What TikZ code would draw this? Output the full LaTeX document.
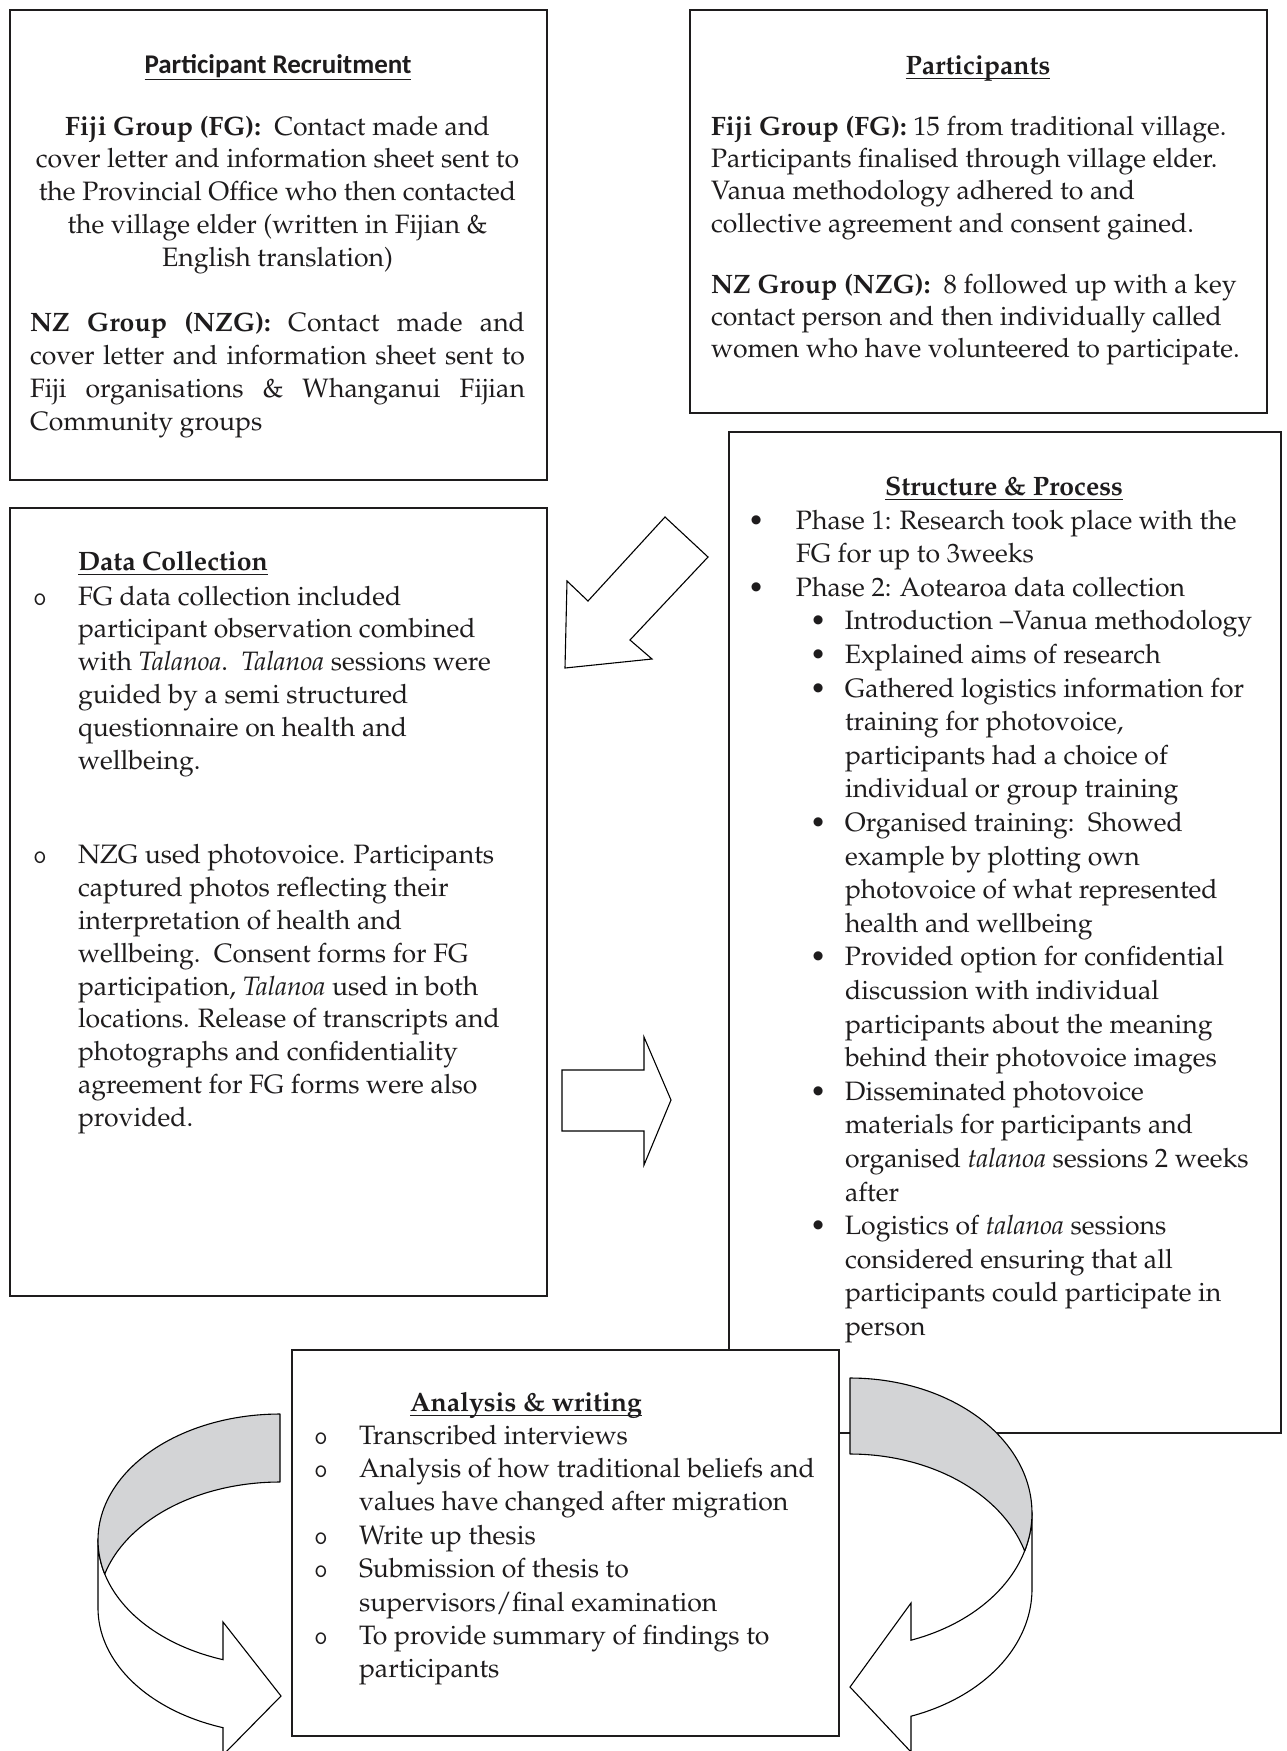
\documentclass[tikz,border=0pt]{standalone}
\usepackage[T1]{fontenc}
\usepackage{fontspec}
\newfontfamily\carlito{Carlito}
\usetikzlibrary{fit}

% Palatino body text at a fixed size; the argument is the line pitch
\newcommand\pal[1]{\fontencoding{T1}\fontfamily{ppl}\fontsize{13.3pt}{#1}\selectfont}
% hollow "o" list marker
\newcommand\obul{{\fontencoding{TU}\ttfamily o}}
% underline at a fixed distance below the baseline
\newcommand\hul[2][2.6pt]{\setbox0\hbox{#2}\rlap{\rule[-#1]{\wd0}{0.65pt}}\box0}

\definecolor{bandgray}{RGB}{211,212,214}
\definecolor{ink}{RGB}{30,28,29}

\tikzset{
  panel/.style={draw=ink, line width=0.8pt, fill=white, inner sep=0pt},
  txt/.style={inner sep=0pt, outer sep=0pt, text=ink, anchor=base west},
  blockarrow/.style={draw=black, line width=0.55pt, fill=white, line join=miter},
  bandback/.style={draw=black, line width=0.55pt, fill=bandgray, line join=round},
  bandfront/.style={draw=black, line width=0.55pt, fill=white, line join=miter},
}

\begin{document}
\begin{tikzpicture}[x=0.5pt,y=-0.5pt]
\useasboundingbox (0,0) rectangle (1286,1751);
\clip (0,0) rectangle (1286,1751);

% ---------- Participant Recruitment ----------
\node[panel, fit={(10,10) (547,480)}] (recruit) {};
\node[txt, anchor=base, font={\carlito\bfseries\fontsize{13.5pt}{16pt}\selectfont}]
  (recruitHead) at (278,73) {\hul[3.4pt]{Participant Recruitment}};
\node[txt, font={\pal{16.4pt}}] (recruitBody) at (30,135) {%
\begin{tabular}[t]{@{}c@{}}
\textbf{Fiji Group (FG):}\ \ Contact made and\\
cover letter and information sheet sent to\\
the Provincial Office who then contacted\\
the village elder (written in Fijian \&\\
English translation)\\[16.4pt]
\makebox[247.5pt][s]{\textbf{NZ Group (NZG):} Contact made and}\\
\makebox[247.5pt][s]{cover letter and information sheet sent to}\\
\makebox[247.5pt][s]{Fiji organisations \& Whanganui Fijian}\\
\makebox[247.5pt][l]{Community groups}
\end{tabular}};

% ---------- Participants ----------
\node[panel, fit={(690,10) (1267,413)}] (part) {};
\node[txt, anchor=base, font={\pal{16pt}\bfseries}] (partHead) at (978,74) {\hul{Participants}};
\node[txt, font={\pal{16.2pt}}] (partBody) at (711,135) {%
\begin{tabular}[t]{@{}l@{}}
\textbf{Fiji Group (FG):} 15 from traditional village.\\
Participants finalised through village elder.\\
Vanua methodology adhered to and\\
collective agreement and consent gained.\\[14.2pt]
\textbf{NZ Group (NZG):}\ \ 8 followed up with a key\\
contact person and then individually called\\
women who have volunteered to participate.
\end{tabular}};

% ---------- Data Collection ----------
\node[panel, fit={(10,508) (547,1296)}] (data) {};
\node[txt, font={\pal{16pt}\bfseries}] (dataHead) at (78,570) {\hul{Data Collection}};
\node[txt, font={\pal{16.4pt}}] (dataBody) at (33,605) {%
\begin{tabular}[t]{@{}l@{}}
\makebox[22.5pt][l]{\obul}FG data collection included\\
\hspace*{22.5pt}participant observation combined\\
\hspace*{22.5pt}with \textit{Talanoa}.\ \ \textit{Talanoa} sessions were\\
\hspace*{22.5pt}guided by a semi structured\\
\hspace*{22.5pt}questionnaire on health and\\
\hspace*{22.5pt}wellbeing.\\[31pt]
\makebox[22.5pt][l]{\obul}NZG used photovoice. Participants\\
\hspace*{22.5pt}captured photos reflecting their\\
\hspace*{22.5pt}interpretation of health and\\
\hspace*{22.5pt}wellbeing.\ \ Consent forms for FG\\
\hspace*{22.5pt}participation, \textit{Talanoa} used in both\\
\hspace*{22.5pt}locations. Release of transcripts and\\
\hspace*{22.5pt}photographs and confidentiality\\
\hspace*{22.5pt}agreement for FG forms were also\\
\hspace*{22.5pt}provided.
\end{tabular}};

% ---------- Structure & Process ----------
\node[panel, fit={(729,432) (1281,1433)}] (proc) {};
\node[txt, anchor=base, font={\pal{16pt}\bfseries}] (procHead) at (1004,495) {\hul{Structure \& Process}};
\node[txt, font={\pal{16.8pt}}] (procBody) at (748,529) {%
\begin{tabular}[t]{@{}l@{}}
\makebox[24pt][l]{\textbullet}Phase 1: Research took place with the\\
\hspace*{24pt}FG for up to 3weeks\\
\makebox[24pt][l]{\textbullet}Phase 2: Aotearoa data collection\\
\hspace*{31pt}\makebox[17.5pt][l]{\textbullet}Introduction \textendash Vanua methodology\\
\hspace*{31pt}\makebox[17.5pt][l]{\textbullet}Explained aims of research\\
\hspace*{31pt}\makebox[17.5pt][l]{\textbullet}Gathered logistics information for\\
\hspace*{48.5pt}training for photovoice,\\
\hspace*{48.5pt}participants had a choice of\\
\hspace*{48.5pt}individual or group training\\
\hspace*{31pt}\makebox[17.5pt][l]{\textbullet}Organised training:\ \ Showed\\
\hspace*{48.5pt}example by plotting own\\
\hspace*{48.5pt}photovoice of what represented\\
\hspace*{48.5pt}health and wellbeing\\
\hspace*{31pt}\makebox[17.5pt][l]{\textbullet}Provided option for confidential\\
\hspace*{48.5pt}discussion with individual\\
\hspace*{48.5pt}participants about the meaning\\
\hspace*{48.5pt}behind their photovoice images\\
\hspace*{31pt}\makebox[17.5pt][l]{\textbullet}Disseminated photovoice\\
\hspace*{48.5pt}materials for participants and\\
\hspace*{48.5pt}organised \textit{talanoa} sessions 2 weeks\\
\hspace*{48.5pt}after\\
\hspace*{31pt}\makebox[17.5pt][l]{\textbullet}Logistics of \textit{talanoa} sessions\\
\hspace*{48.5pt}considered ensuring that all\\
\hspace*{48.5pt}participants could participate in\\
\hspace*{48.5pt}person
\end{tabular}};

% ---------- block arrows between the columns ----------
\draw[blockarrow] (665,517) -- (708,557) -- (630,640) -- (652,659)
  -- (565,668) -- (567,581) -- (588,601) -- cycle;
\draw[blockarrow] (562,1070) -- (644,1070) -- (644,1037) -- (671,1100)
  -- (644,1165) -- (644,1131) -- (562,1131) -- cycle;

% ---------- Analysis & writing ----------
\node[panel, fit={(292,1350) (839,1736)}] (ana) {};
\node[txt, font={\pal{16pt}\bfseries}] (anaHead) at (410,1411) {\hul{Analysis \& writing}};
\node[txt, font={\pal{16.7pt}}] (anaBody) at (314,1444) {%
\begin{tabular}[t]{@{}l@{}}
\makebox[22.5pt][l]{\obul}Transcribed interviews\\
\makebox[22.5pt][l]{\obul}Analysis of how traditional beliefs and\\
\hspace*{22.5pt}values have changed after migration\\
\makebox[22.5pt][l]{\obul}Write up thesis\\
\makebox[22.5pt][l]{\obul}Submission of thesis to\\
\hspace*{22.5pt}supervisors/final examination\\
\makebox[22.5pt][l]{\obul}To provide summary of findings to\\
\hspace*{22.5pt}participants
\end{tabular}};

% ---------- curved arrow on the left (turning right) ----------
\filldraw[bandfront] (98,1540) -- (98,1608)
  -- plot[domain=180:108.25,samples=50] ({280+182*cos(\x)},{1608+126*sin(\x)})
  -- (223,1755) -- (281,1696) -- (223,1622)
  -- plot[domain=108.25:180,samples=50] ({280+182*cos(\x)},{1540+126*sin(\x)}) -- cycle;
\filldraw[bandback]
  plot[domain=270:164.35,samples=60] ({280+182*cos(\x)},{1540+126*sin(\x)})
  -- plot[domain=195.65:270,samples=50] ({280+182*cos(\x)},{1608+126*sin(\x)}) -- cycle;

% ---------- curved arrow on the right (turning left) ----------
\filldraw[bandfront] (1032,1513) -- (1032,1589)
  -- plot[domain=0:70.42,samples=50] ({850+182*cos(\x)},{1589+135*sin(\x)})
  -- (911,1752) -- (850,1687) -- (911,1603)
  -- plot[domain=70.42:0,samples=50] ({850+182*cos(\x)},{1513+135*sin(\x)}) -- cycle;
\filldraw[bandback]
  plot[domain=270:376.35,samples=60] ({850+182*cos(\x)},{1513+135*sin(\x)})
  -- plot[domain=-16.35:-90,samples=50] ({850+182*cos(\x)},{1589+135*sin(\x)}) -- cycle;

\end{tikzpicture}
\end{document}
